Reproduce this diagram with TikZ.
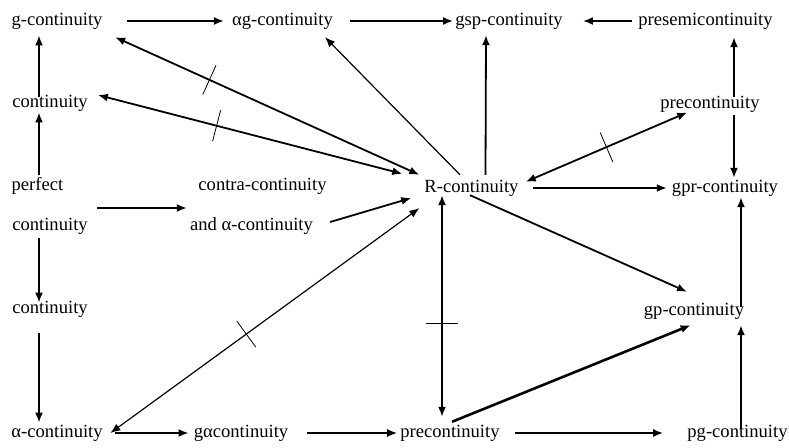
\documentclass[tikz,border=0pt]{standalone}
\usepackage{fontspec}
\setmainfont{Liberation Serif}
\usepackage{tikz}
\usetikzlibrary{arrows.meta,decorations.markings}
\tikzstyle{lbl} = [inner sep=0pt, text height=12.5pt, text depth=4pt, font=\fontsize{18.6pt}{22pt}\selectfont]
\tikzstyle{line} = [draw, line width=1.8pt, ->]
\tikzstyle{both} = [line, <->]
\tikzset{cut/.style={postaction={decorate}, decoration={markings, mark=at position #1 with {\draw[-, line width=0.8pt] (0,-16pt) -- (0,16pt);}}}}

\begin{document}
\begin{tikzpicture}[x=1pt, y=1pt, >={Latex[length=10pt,width=8pt]}]
	\useasboundingbox (0,0) rectangle (789,447);
	%% top row
	\node[lbl] (gc) at (57,426) {g-continuity};
	\node[lbl] (agc) at (282.5,426) {αg-continuity};
	\node[lbl] (gsp) at (509,426) {gsp-continuity};
	\node[lbl] (psc) at (705.5,426) {presemicontinuity};
	%% second row
	\node[lbl] (cont) at (50,344) {continuity};
	\node[lbl] (pcr) at (710,343) {precontinuity};
	%% middle rows
	\node[lbl] (perf) at (37.5,261) {perfect};
	\node[lbl] (contra) at (262.5,261) {contra-continuity};
	\node[lbl] (R) at (471.5,259) {R-continuity};
	\node[lbl] (gpr) at (725,259) {gpr-continuity};
	\node[lbl] (cont2) at (50,221) {continuity};
	\node[lbl] (andac) at (251.5,221) {and α-continuity};
	%% lower rows
	\node[lbl] (cont3) at (50,138) {continuity};
	\node[lbl] (gp) at (694,136) {gp-continuity};
	\node[lbl] (ac) at (57,14) {α-continuity};
	\node[lbl] (gac) at (241,14) {gαcontinuity};
	\node[lbl] (pcb) at (450,14) {precontinuity};
	\node[lbl] (pg) at (737.5,14) {pg-continuity};
	%% edges
	\path[line] ([xshift=24pt]gc.east) -- ([xshift=-8pt]agc.west);
	\path[line] ([xshift=17pt]agc.east) -- ([xshift=-2pt]gsp.west);
	\path[line] ([xshift=-6pt]psc.west) -- ([xshift=20pt]gsp.east);
	\path[line] ([xshift=-11pt,yshift=-2pt]cont.north) -- ([xshift=-18pt,yshift=-6pt]gc.south);
	\path[line] ([xshift=1.5pt,yshift=3pt]perf.north) -- ([xshift=-11pt,yshift=-1pt]cont.south);
	\path[line] ([xshift=-11pt,yshift=-4pt]cont2.south) -- ([xshift=-11pt,yshift=-2pt]cont3.north);
	\path[line] ([xshift=-11pt,yshift=-16pt]cont3.south) -- ([xshift=-18pt,yshift=2pt]ac.north);
	\path[line] ([xshift=9pt,yshift=18pt]cont2.east) -- ([xshift=-3pt,yshift=18pt]andac.west);
	\path[line] ([xshift=17pt,yshift=4pt]andac.east) -- ([xshift=-13pt,yshift=-10pt]R.west);
	\path[both, cut=0.31] ([xshift=12.5pt,yshift=-7.75pt]gc.south east) -- ([xshift=-5pt,yshift=4.75pt]R.north west);
	\path[both, cut=0.39] ([xshift=10pt,yshift=8pt]cont.east) -- ([xshift=-22pt,yshift=5.75pt]R.north west);
	\path[line, line width=1.2pt] ([xshift=-11.5pt,yshift=4.75pt]R.north) -- ([xshift=-8pt,yshift=-7.75pt]agc.south east);
	\path[line] ([xshift=14pt,yshift=4.75pt]R.north) -- ([xshift=-23pt,yshift=-5.75pt]gsp.south);
	\path[line] ([xshift=24pt,yshift=-1pt]pcr.north) -- ([xshift=28.5pt,yshift=-7.75pt]psc.south);
	\path[line] ([xshift=24pt,yshift=-2.75pt]pcr.south) -- ([xshift=9pt,yshift=1.75pt]gpr.north);
	\path[both, cut=0.5] ([xshift=7pt,yshift=-2.25pt]R.north east) -- ([xshift=27pt]pcr.south west);
	\path[line] ([xshift=14pt]R.east) -- ([xshift=-5pt]gpr.west);
	\path[line] ([xshift=-1.5pt,yshift=1.25pt]R.south) -- ([xshift=-7pt,yshift=10.75pt]gp.north);
	\path[both, cut=0.58] ([xshift=-29.5pt,yshift=1.25pt]R.south) -- ([xshift=-8pt,yshift=7.75pt]pcb.north);
	\path[line, line width=2.6pt] ([xshift=2pt,yshift=2.75pt]pcb.north) -- ([xshift=47pt,yshift=-5.75pt]gp.south west);
	\path[line] ([xshift=3.5pt,yshift=-4pt]pg.north) -- ([xshift=47pt,yshift=-5.75pt]gp.south);
	\path[line] ([xshift=47pt,yshift=-4.25pt]gp.north) -- ([xshift=16pt,yshift=-0.75pt]gpr.south);
	\path[both, line width=1.2pt, cut=0.44] ([xshift=7.5pt]ac.east) -- ([xshift=-5pt,yshift=-11.75pt]R.south west);
	\path[line] ([xshift=12.5pt]ac.east) -- ([xshift=-5pt]gac.west);
	\path[line] ([xshift=19pt]gac.east) -- ([xshift=-3pt]pcb.west);
	\path[line] ([xshift=15pt]pcb.east) -- ([xshift=-24pt]pg.west);
\end{tikzpicture}
\end{document}
